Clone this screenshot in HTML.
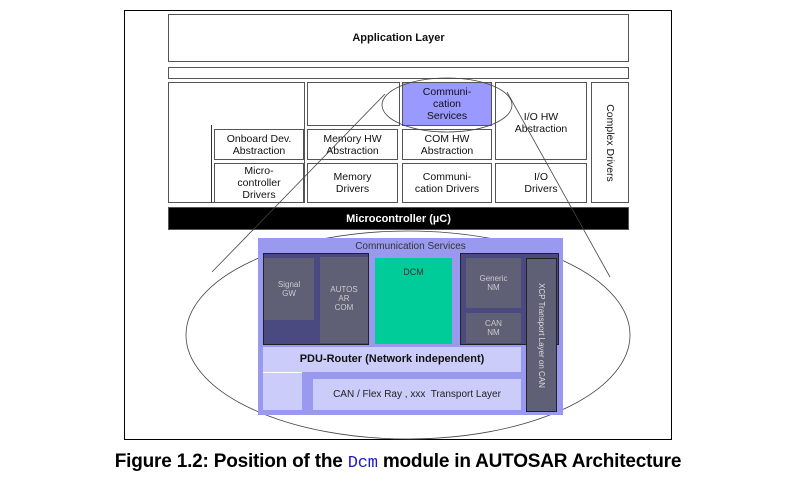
<!DOCTYPE html>
<html><head><style>
body{margin:0;width:796px;height:484px;background:#fff;position:relative;overflow:hidden;font-family:"Liberation Sans",sans-serif}
.b{position:absolute;box-sizing:border-box;border:1px solid #555;background:#fff;display:flex;align-items:center;justify-content:center;text-align:center;font-size:10.5px;line-height:12px;color:#111}
.d{position:absolute;box-sizing:border-box;display:flex;align-items:center;justify-content:center;text-align:center;font-size:8px;line-height:9px;color:#ddd}
</style></head><body>
<div style="position:absolute;left:124px;top:10px;width:548px;height:430px;border:1px solid #000;box-sizing:border-box"></div>
<svg width="796" height="484" style="position:absolute;left:0;top:0" fill="none" stroke="#444" stroke-width="0.8">
<ellipse cx="408" cy="335" rx="222" ry="104"/>
</svg>
<div class="b" style="left:168px;top:14px;width:461px;height:48px;font-weight:bold;font-size:11px">Application Layer</div>
<div class="b" style="left:168px;top:67px;width:461px;height:12px"></div>
<div class="b" style="left:168px;top:82px;width:137px;height:121px"></div>
<div style="position:absolute;left:211px;top:125px;width:1px;height:78px;background:#333"></div>
<div class="b" style="left:307px;top:82px;width:93px;height:44px"></div>
<div class="b" style="left:402px;top:82px;width:90px;height:44px;background:#9999ff">Communi-<br>cation<br>Services</div>
<div class="b" style="left:495px;top:82px;width:92px;height:78px;padding-top:4px">I/O HW<br>Abstraction</div>
<div class="b" style="left:591px;top:82px;width:38px;height:121px"><span style="transform:rotate(90deg);white-space:nowrap;display:inline-block">Complex Drivers</span></div>
<div class="b" style="left:214px;top:129px;width:90px;height:31px">Onboard Dev.<br>Abstraction</div>
<div class="b" style="left:307px;top:129px;width:91px;height:31px">Memory HW<br>Abstraction</div>
<div class="b" style="left:402px;top:129px;width:90px;height:31px">COM HW<br>Abstraction</div>
<div class="b" style="left:214px;top:163px;width:90px;height:40px">Micro-<br>controller<br>Drivers</div>
<div class="b" style="left:307px;top:163px;width:91px;height:40px">Memory<br>Drivers</div>
<div class="b" style="left:402px;top:163px;width:90px;height:40px">Communi-<br>cation Drivers</div>
<div class="b" style="left:495px;top:163px;width:92px;height:40px">I/O<br>Drivers</div>
<div class="b" style="left:168px;top:207px;width:461px;height:23px;background:#000;color:#fff;font-weight:bold;font-size:11px">Microcontroller (µC)</div>

<div style="position:absolute;left:258px;top:238px;width:305px;height:177px;background:#9999f0"></div>
<div class="d" style="left:258px;top:240px;width:305px;height:12px;color:#333;font-size:10px">Communication Services</div>
<div class="d" style="left:263px;top:253px;width:106px;height:92px;background:#4a4a80;border:1px solid #222"></div>
<div class="d" style="left:264px;top:258px;width:50px;height:62px;background:#5f5f75;align-items:flex-start;padding-top:22px;color:#ccc">Signal<br>GW</div>
<div class="d" style="left:320px;top:257px;width:48px;height:86px;background:#5f5f75;align-items:flex-start;padding-top:28px;color:#ccc">AUTOS<br>AR<br>COM</div>
<div class="d" style="left:375px;top:258px;width:77px;height:86px;background:#00cc99;align-items:flex-start;padding-top:10px;color:#333;font-size:9px">DCM</div>
<div class="d" style="left:460px;top:253px;width:99px;height:92px;background:#4a4a80;border:1px solid #222"></div>
<div class="d" style="left:466px;top:258px;width:55px;height:50px;background:#5f5f75;color:#ccc">Generic<br>NM</div>
<div class="d" style="left:466px;top:313px;width:55px;height:30px;background:#5f5f75;color:#ccc">CAN<br>NM</div>
<div class="d" style="left:526px;top:258px;width:31px;height:154px;background:#5f5f75;border:1px solid #222;color:#ddd"><span style="transform:rotate(90deg);white-space:nowrap;display:inline-block">XCP Transport Layer on CAN</span></div>
<div class="d" style="left:263px;top:347px;width:258px;height:25px;background:#ccccfa;color:#111;font-size:11px;font-weight:bold">PDU-Router (Network independent)</div>
<div class="d" style="left:263px;top:372px;width:39px;height:38px;background:#ccccfa;border-top:1px solid #fff"></div>
<div class="d" style="left:313px;top:379px;width:208px;height:31px;background:#ccccfa;color:#222;font-size:10px">CAN / Flex Ray , xxx&nbsp; Transport Layer</div>

<svg width="796" height="484" style="position:absolute;left:0;top:0" fill="none" stroke="#444" stroke-width="0.8">
<ellipse cx="447" cy="105" rx="65" ry="27"/>
<line x1="385" y1="94" x2="212" y2="272"/>
<line x1="507" y1="92" x2="610" y2="277"/>
</svg>
<div style="position:absolute;left:0;top:451px;width:796px;text-align:center;font-size:19px;font-weight:bold;color:#000;letter-spacing:-0.2px">Figure 1.2: Position of the <span style="font-family:'Liberation Mono',monospace;color:#1a1acc;font-weight:normal;font-size:17px">Dcm</span> module in AUTOSAR Architecture</div>
</body></html>
